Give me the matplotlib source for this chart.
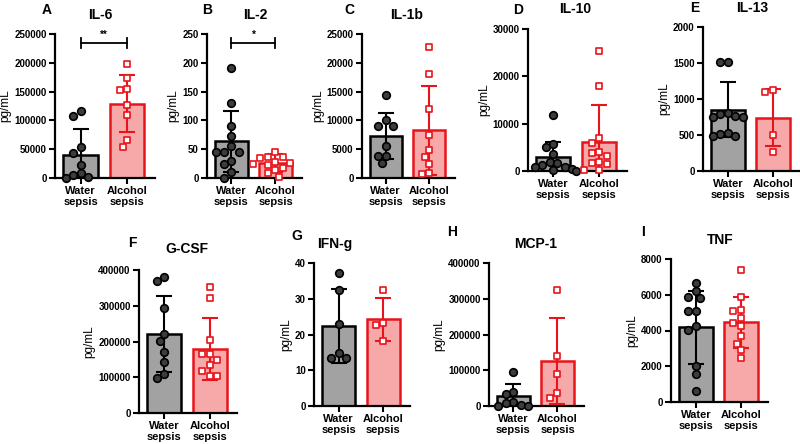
import numpy as np
import matplotlib
matplotlib.use('Agg')
import matplotlib.pyplot as plt

plt.rcParams['font.family'] = 'Liberation Sans'

groups = ['Water\nsepsis', 'Alcohol\nsepsis']
titles = ['IL-6', 'IL-2', 'IL-1b', 'IL-10', 'IL-13', 'G-CSF', 'IFN-g', 'MCP-1', 'TNF']
letters = ['A', 'B', 'C', 'D', 'E', 'F', 'G', 'H', 'I']

# individual animals (pg/mL)
il6_water = [117000, 107000, 53000, 44000, 22000, 8000, 5000, 1000, 0]
il6_alcohol = [198000, 173000, 154000, 152000, 127000, 109000, 66000, 53000]
il2_water = [191, 131, 90, 73, 55, 45, 45, 45, 29, 25, 10, 0]
il2_alcohol = [46, 37, 36, 35, 28, 26, 24, 22, 18, 14, 8, 2]
il1b_water = [14400, 10100, 9000, 9000, 5500, 3800, 3800, 2600]
il1b_alcohol = [22800, 18100, 12000, 7500, 4900, 3700, 2500, 800, 700]
il10_water = [11800, 5800, 5000, 3500, 2000, 1600, 1200, 900, 800, 500, 200, 0]
il10_alcohol = [25300, 17900, 7000, 5900, 4100, 3800, 3200, 1800, 1600, 1500, 300, 200]
il13_water = [1520, 1520, 800, 790, 760, 750, 750, 530, 520, 490, 490]
il13_alcohol = [1120, 1100, 500, 270]
gcsf_water = [381000, 369000, 293000, 221000, 202000, 171000, 143000, 108000, 99000]
gcsf_alcohol = [353000, 323000, 204000, 164000, 164000, 148000, 134000, 118000, 104000, 104000]
ifng_water = [37.2, 32.5, 22.8, 14.8, 13.4, 13.4]
ifng_alcohol = [32.4, 23.2, 22.6, 18.2]
mcp1_water = [96000, 40000, 33000, 12000, 8000, 3000, 1000, 0]
mcp1_alcohol = [325000, 140000, 89000, 37000, 22000]
tnf_water = [6650, 6200, 5850, 5800, 5100, 5070, 4230, 4050, 2030, 1590, 630]
tnf_alcohol = [7400, 5850, 5170, 5070, 4700, 4420, 4230, 3670, 3260, 2890, 2460]

# bar heights (mean) and error bars (SD) as drawn
means = [[40500, 129000], [64, 26], [7350, 8250], [3000, 6200], [854, 743],
         [220500, 180000], [22.4, 24.2], [28000, 125500], [4177, 4457]]
sds = [[44500, 50000], [53, 15], [4000, 7700], [3200, 7700], [383, 395],
       [107000, 87000], [10.3, 6.0], [33000, 119500], [2050, 1420]]

ymaxes = [250000, 250, 25000, 30000, 2000, 400000, 40, 400000, 8000]
ysteps = [50000, 50, 5000, 10000, 500, 100000, 10, 100000, 2000]
signif = ['**', '*', None, None, None, None, None, None, None]

points = [(il6_water, il6_alcohol), (il2_water, il2_alcohol), (il1b_water, il1b_alcohol),
          (il10_water, il10_alcohol), (il13_water, il13_alcohol), (gcsf_water, gcsf_alcohol),
          (ifng_water, ifng_alcohol), (mcp1_water, mcp1_alcohol), (tnf_water, tnf_alcohol)]

W, H = 800, 444
# axes boxes in pixels: left, top, right, bottom
boxes = [(55, 34, 155, 178), (207, 34, 302, 178), (362, 34, 455, 178),
         (528, 29, 627, 171), (703, 27, 800, 171),
         (139, 270, 237, 413), (314, 263, 410, 406), (489, 263, 584, 406),
         (671, 259, 768, 402)]
letter_pos = [(47, 10), (207, 10), (349, 10), (518, 10), (695, 8),
              (132, 243), (297, 236), (452, 232), (643, 232)]
title_pos = [(100, 15), (255, 15), (407, 15), (575, 9), (752, 8),
             (187, 249), (335, 244), (536, 244), (720, 240)]

fill_cols = ['#a2a2a2', '#f7a9a9']
edge_cols = ['black', '#e8141b']

XMIN, XMAX = -0.55, 1.6


def swarm(vals, ymax, h_px, unit_px, d=7.5):
    vals = np.asarray(vals, dtype=float)
    xs = np.zeros(len(vals))
    placed = []
    for i in np.argsort(-vals):
        ypx = vals[i] / ymax * h_px
        for k in [0, -0.5, 0.5, -1, 1, -1.5, 1.5, -2, 2, -2.5, 2.5, -3, 3]:
            xpx = k * d
            if all((xpx - px) ** 2 + (ypx - py) ** 2 >= d ** 2 for px, py in placed):
                break
        placed.append((xpx, ypx))
        xs[i] = xpx / unit_px
    return xs


fig = plt.figure(figsize=(W / 100, H / 100), dpi=100)

for p in range(9):
    l, t, r, b = boxes[p]
    ax = fig.add_axes([l / W, 1 - b / H, (r - l) / W, (b - t) / H])
    ymax = ymaxes[p]
    unit_px = (r - l) / (XMAX - XMIN)
    h_px = b - t

    for g in range(2):
        ax.bar(g, means[p][g], width=0.74, color=fill_cols[g], edgecolor=edge_cols[g],
               linewidth=1.8, zorder=2)
        ax.errorbar(g, means[p][g], yerr=sds[p][g], fmt='none', ecolor=edge_cols[g],
                    elinewidth=1.5, capsize=6, capthick=1.5, zorder=3)
        vals = points[p][g]
        xs = g + swarm(vals, ymax, h_px, unit_px)
        if g == 0:
            ax.scatter(xs, vals, s=30, marker='o', facecolor='#3c3c3c', edgecolor='black',
                       linewidth=1.2, zorder=4, clip_on=False)
        else:
            ax.scatter(xs, vals, s=22, marker='s', facecolor='white', edgecolor=edge_cols[1],
                       linewidth=1.2, zorder=4, clip_on=False)

    if signif[p]:
        yb = 0.94 * ymax
        hh = 0.035 * ymax
        ax.plot([0, 1], [yb, yb], color='black', lw=1.3, clip_on=False)
        ax.plot([0, 0], [yb - hh, yb + hh], color='black', lw=1.3, clip_on=False)
        ax.plot([1, 1], [yb - hh, yb + hh], color='black', lw=1.3, clip_on=False)
        ax.text(0.5, yb + 0.02 * ymax, signif[p], ha='center', va='bottom', fontsize=7,
                fontweight='bold')

    ax.set_xlim(XMIN, XMAX)
    ax.set_ylim(0, ymax)
    ticks = np.arange(0, ymax + ysteps[p] / 2, ysteps[p])
    ax.set_yticks(ticks)
    ax.set_yticklabels([str(int(v)) for v in ticks])
    ax.set_xticks([0, 1])
    ax.set_xticklabels(groups, fontsize=8, fontweight='bold', linespacing=1.1)
    ax.tick_params(axis='y', labelsize=7, width=1.5, length=4, pad=2)
    ax.tick_params(axis='x', width=1.5, length=4, pad=2)
    for lab in ax.get_yticklabels():
        lab.set_fontweight('bold')
    for s in ['top', 'right']:
        ax.spines[s].set_visible(False)
    for s in ['left', 'bottom']:
        ax.spines[s].set_linewidth(1.6)
    ax.set_ylabel('pg/mL', fontsize=8.5, labelpad=2)

    fig.text(letter_pos[p][0] / W, 1 - letter_pos[p][1] / H, letters[p], fontsize=10,
             fontweight='bold', ha='center', va='center')
    fig.text(title_pos[p][0] / W, 1 - title_pos[p][1] / H, titles[p], fontsize=10,
             fontweight='bold', ha='center', va='center')

fig.savefig('out.png', dpi=100)
